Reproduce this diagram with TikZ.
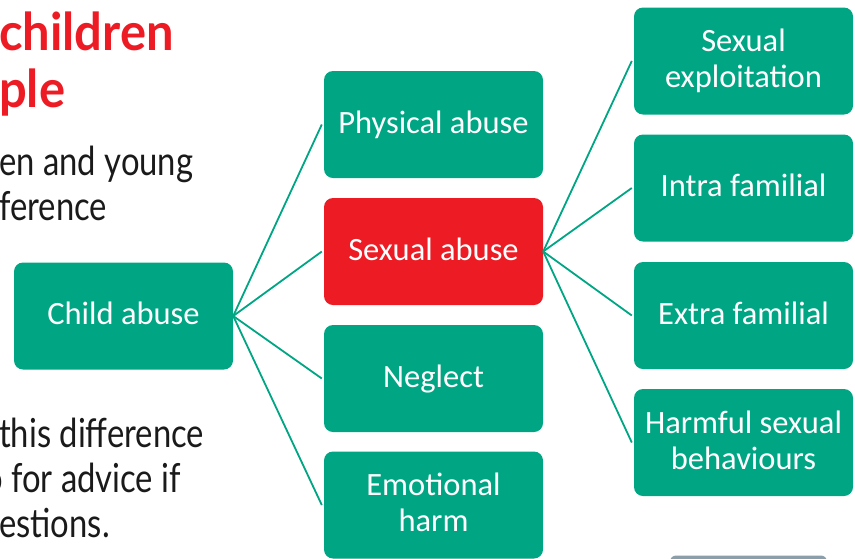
\documentclass[tikz,border=0pt]{standalone}
\usepackage{fontspec}
\newfontfamily\boxfont{Carlito}
\newfontfamily\bodyfont[FakeStretch=0.82]{Lato}
\newfontfamily\headfont[FakeStretch=0.94]{Lato}
\definecolor{boxgreen}{RGB}{0,166,132}
\definecolor{boxred}{RGB}{237,28,36}
\definecolor{slidegrey}{RGB}{140,158,170}
\definecolor{bodyink}{RGB}{26,26,26}
\begin{document}
\begin{tikzpicture}[x=1pt,y=-1pt,
  card/.style={rectangle, rounded corners=9pt, fill=boxgreen, text=white,
    minimum width=219pt, minimum height=107pt, inner sep=0pt,
    text height=17pt, text depth=0pt, align=center,
    font=\boxfont\fontsize{32.5}{36}\selectfont},
  twoline/.style={text height=53pt},
  hot/.style={card, fill=boxred},
  link/.style={draw=boxgreen, line width=1.8pt},
  titletext/.style={anchor=base west, inner sep=0pt, text=boxred,
    font=\headfont\bfseries\fontsize{52}{55}\selectfont},
  bodytext/.style={anchor=base west, inner sep=0pt, text=bodyink,
    font=\bodyfont\fontsize{40}{45}\selectfont}]
\useasboundingbox (0,0) rectangle (855,558);
\clip (0,0) rectangle (855,558);

% heading and body copy on the left
\node[titletext] (h1) at (-1,50) {children};
\node[titletext] (h2) at (-1,107) {ple};
\node[bodytext] (b1) at (-1,175) {en and young};
\node[bodytext] (b2) at (-1,220) {ference};
\node[bodytext] (b3) at (-1,447) {this difference};
\node[bodytext] (b4) at (-16,492) {o for advice if};
\node[bodytext] (b5) at (-1,537) {estions.};

% hierarchy boxes
\node[card] (ca) at (123.5,316) {Child abuse};
\node[card] (pa) at (433.5,124.5) {Physical abuse};
\node[hot]  (sa) at (433.5,251.5) {Sexual abuse};
\node[card] (ne) at (433.5,378.5) {Neglect};
\node[card,twoline] (eh) at (433.5,505) {Emotional\\harm};
\node[card,twoline] (se) at (743.5,61) {Sexual\\exploitation};
\node[card] (in) at (743.5,188) {Intra familial};
\node[card] (ex) at (743.5,315.5) {Extra familial};
\node[card,twoline] (hs) at (743.5,442.5) {Harmful sexual\\behaviours};

% connectors
\foreach \t in {pa,sa,ne,eh} \draw[link] (ca.east) -- ([xshift=-2pt]\t.west);
\foreach \t in {se,in,ex,hs} \draw[link] (sa.east) -- ([xshift=-2pt]\t.west);

% top edge of the next panel
\fill[slidegrey, rounded corners=6pt] (670,555.5) rectangle (827,600);
\end{tikzpicture}
\end{document}
